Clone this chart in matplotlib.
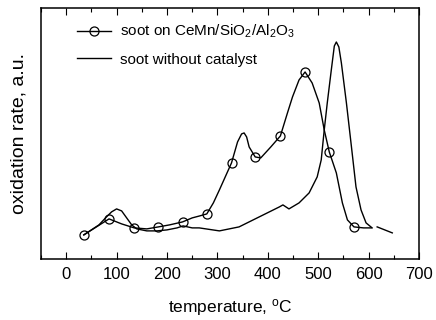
import matplotlib
matplotlib.use("Agg")
import matplotlib.pyplot as plt
import numpy as np

# soot on CeMn/SiO2/Al2O3 (line), values in arbitrary units
cat_t = [35, 60, 85, 110, 135, 160, 183, 205, 231, 250, 265, 279, 292, 304,
         328, 340, 348, 353, 358, 363, 375, 386, 406, 425, 439, 449, 462, 474,
         488, 502, 512, 522, 536, 548, 558, 571, 590, 605]
cat_y = [24, 32, 40, 35, 31, 30, 32, 34, 37, 41, 43, 45, 56, 69,
         96, 117, 125, 126, 122, 112, 102, 101, 112, 123, 146, 162, 179, 187,
         176, 156, 129, 107, 86, 56, 39, 32, 31, 31]
# temperatures carrying open-circle markers
cat_marker_t = [35, 85, 135, 183, 231, 279, 328, 375, 425, 474, 522, 571]

# soot without catalyst (NaN = gap in the trace)
raw_t = [35, 50, 65, 80, 90, 100, 110, 120, 130, 140, 160, 180, 200, 220, 232,
         250, 264, 304, 343, 383, 423, 430, 442, 462, 482, 498, 506, 512, 518,
         526, 532, 536, 541, 546, 556, 566, 575, 585, 595, 607, 612,
         617, 632, 647]
raw_y = [24, 29, 34, 42, 47, 50, 48, 41, 34, 30, 28, 28, 29, 31, 33,
         31, 31, 28, 32, 42, 52, 54, 50, 56, 66, 82, 99, 129, 156,
         189, 213, 217, 212, 196, 156, 112, 72, 49, 36, 31, np.nan,
         32, 29, 26]

plt.rcParams["font.family"] = ["Liberation Sans", "DejaVu Sans"]
plt.rcParams["mathtext.default"] = "regular"


def main() -> None:
    fig = plt.figure(figsize=(4.36, 3.2), dpi=100)
    ax = fig.add_axes([0.094, 0.191, 0.867, 0.784])

    marks = [cat_t.index(t) for t in cat_marker_t]
    ax.plot(cat_t, cat_y, color="black", lw=1.0, marker="o", markersize=6.5,
            markerfacecolor="none", markeredgewidth=0.9, markevery=marks,
            label="soot on CeMn/SiO$_2$/Al$_2$O$_3$")
    ax.plot(raw_t, raw_y, color="black", lw=1.0, label="soot without catalyst")

    ax.set_xlim(-50, 700)
    ax.set_ylim(0, 251)
    ax.set_xticks(np.arange(0, 701, 100))
    ax.set_xticks(np.arange(-50, 701, 50), minor=True)
    ax.set_yticks([])
    ax.tick_params(axis="x", which="both", direction="in", top=True,
                   labelsize=12, pad=6)
    ax.tick_params(axis="x", which="major", length=5, width=0.8)
    ax.tick_params(axis="x", which="minor", length=3, width=0.8)
    for s in ax.spines.values():
        s.set_linewidth(1.1)

    ax.set_xlabel("temperature, $^{o}$C", fontsize=12.5, labelpad=11)
    ax.set_ylabel("oxidation rate, a.u.", fontsize=14, labelpad=10)

    ax.legend(loc="upper left", bbox_to_anchor=(0.095, 0.94), frameon=False,
              fontsize=11, borderpad=0, borderaxespad=0, handlelength=2.2,
              handletextpad=0.6, labelspacing=0.8)

    fig.savefig("out.png", dpi=100)


if __name__ == "__main__":
    main()
